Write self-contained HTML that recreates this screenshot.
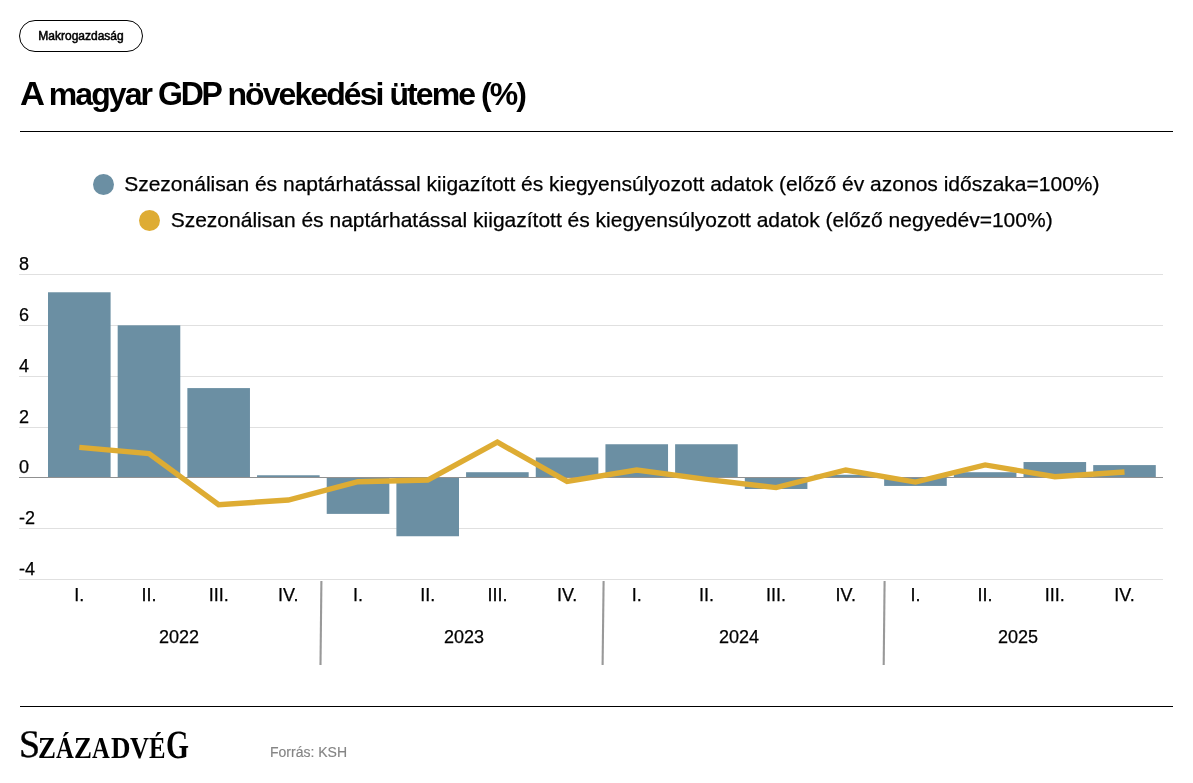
<!DOCTYPE html>
<html lang="hu">
<head>
<meta charset="utf-8">
<title>A magyar GDP növekedési üteme (%)</title>
<style>
html,body{margin:0;padding:0;background:#fff;}
body{width:1193px;height:783px;position:relative;overflow:hidden;font-family:"Liberation Sans",Arial,Helvetica,sans-serif;color:#000;}
.abs{position:absolute;white-space:nowrap;}
.pill{left:19px;top:20px;width:124px;height:32px;box-sizing:border-box;border:1px solid #000;border-radius:16px;text-align:center;font-size:12px;line-height:30px;-webkit-text-stroke:0.5px #000;}
.title{left:20px;top:76px;margin:0;font-size:32px;line-height:37px;font-weight:bold;letter-spacing:-1.93px;}
.title .cap{display:inline-block;transform:scaleY(1.05);transform-origin:0 29.6px;}
.rule{left:20px;width:1153px;height:1px;background:#000;}
.legend{font-size:21px;line-height:24px;-webkit-text-stroke:0.25px #000;}
.dot{width:21px;height:21px;border-radius:50%;}
.chart{position:absolute;left:0;top:0;}
.logo{left:20px;top:720px;height:60px;line-height:60px;font-size:30.4px;font-family:"Liberation Serif","DejaVu Serif",serif;text-rendering:geometricPrecision;}
.logo span{display:inline-block;vertical-align:top;position:relative;height:60px;transform-origin:0 0;}
.source{left:270px;top:744px;font-size:14px;line-height:16px;color:#858585;-webkit-text-stroke:0.15px #858585;}
</style>
</head>
<body>
<div class="abs pill">Makrogazdaság</div>
<h1 class="abs title"><span class="cap" style="transform:scale(1.08,1.05);letter-spacing:-1.3px">A</span> magyar<span style="letter-spacing:-1.9px"> </span><span class="cap" style="letter-spacing:-2.3px">GDP</span><span style="letter-spacing:-1.9px"> </span>növekedési üteme (%)</h1>
<div class="abs rule" style="top:131px"></div>
<div class="abs dot" style="left:93px;top:174px;background:#6b8fa3"></div>
<div class="abs legend" style="left:124.2px;top:172px">Szezonálisan és naptárhatással kiigazított és kiegyensúlyozott adatok (előző év azonos időszaka=100%)</div>
<div class="abs dot" style="left:139px;top:210px;background:#deac33"></div>
<div class="abs legend" style="left:170.7px;top:208px">Szezonálisan és naptárhatással kiigazított és kiegyensúlyozott adatok (előző negyedév=100%)</div>
<svg class="chart" width="1193" height="783" viewBox="0 0 1193 783">
<g shape-rendering="crispEdges">
<rect x="19" y="274" width="1144" height="1" fill="#e0e0e0"/>
<rect x="19" y="325" width="1144" height="1" fill="#e0e0e0"/>
<rect x="19" y="376" width="1144" height="1" fill="#e0e0e0"/>
<rect x="19" y="427" width="1144" height="1" fill="#e0e0e0"/>
<rect x="19" y="528" width="1144" height="1" fill="#e0e0e0"/>
<rect x="19" y="579" width="1144" height="1" fill="#e0e0e0"/>
</g>
<g fill="#6b8fa3">
<rect x="48.00" y="292.27" width="62.6" height="185.53"/>
<rect x="117.68" y="325.31" width="62.6" height="152.49"/>
<rect x="187.36" y="388.09" width="62.6" height="89.71"/>
<rect x="257.04" y="475.26" width="62.6" height="2.54"/>
<rect x="326.72" y="477.80" width="62.6" height="36.09"/>
<rect x="396.40" y="477.80" width="62.6" height="58.45"/>
<rect x="466.08" y="472.21" width="62.6" height="5.59"/>
<rect x="535.76" y="457.47" width="62.6" height="20.33"/>
<rect x="605.44" y="444.25" width="62.6" height="33.55"/>
<rect x="675.12" y="444.25" width="62.6" height="33.55"/>
<rect x="744.80" y="477.80" width="62.6" height="11.18"/>
<rect x="814.48" y="474.75" width="62.6" height="3.05"/>
<rect x="884.16" y="477.80" width="62.6" height="8.13"/>
<rect x="953.84" y="472.21" width="62.6" height="5.59"/>
<rect x="1023.52" y="462.04" width="62.6" height="15.76"/>
<rect x="1093.20" y="465.09" width="62.6" height="12.71"/>
</g>
<rect x="19" y="477" width="1144" height="1" fill="#909090" shape-rendering="crispEdges"/>
<polyline points="79.30,447.40 148.98,453.50 218.66,504.70 288.34,500.00 358.02,481.70 427.70,480.00 497.38,442.20 567.06,481.40 636.74,470.00 706.42,479.40 776.10,487.60 845.78,470.00 915.46,482.10 985.14,464.90 1054.82,476.70 1124.50,472.00" fill="none" stroke="#deac33" stroke-width="5.4" stroke-linejoin="miter" stroke-linecap="butt"/>
<line x1="321.4" y1="581" x2="320.5" y2="665" stroke="#999999" stroke-width="2.1"/>
<line x1="603.6" y1="581" x2="602.6" y2="665" stroke="#999999" stroke-width="2.1"/>
<line x1="884.6" y1="581" x2="883.7" y2="665" stroke="#999999" stroke-width="2.1"/>
<g font-family="'Liberation Sans', Arial, Helvetica, sans-serif" font-size="18" fill="#000" stroke="#000" stroke-width="0.25">
<text x="19" y="270.0">8</text>
<text x="19" y="321.0">6</text>
<text x="19" y="372.0">4</text>
<text x="19" y="423.0">2</text>
<text x="19" y="473.0">0</text>
<text x="19" y="524.0">-2</text>
<text x="19" y="575.0">-4</text>
<text x="79.3" y="601.1" text-anchor="middle">I.</text>
<text x="149.0" y="601.1" text-anchor="middle">II.</text>
<text x="218.7" y="601.1" text-anchor="middle">III.</text>
<text x="288.3" y="601.1" text-anchor="middle">IV.</text>
<text x="358.0" y="601.1" text-anchor="middle">I.</text>
<text x="427.7" y="601.1" text-anchor="middle">II.</text>
<text x="497.4" y="601.1" text-anchor="middle">III.</text>
<text x="567.1" y="601.1" text-anchor="middle">IV.</text>
<text x="636.7" y="601.1" text-anchor="middle">I.</text>
<text x="706.4" y="601.1" text-anchor="middle">II.</text>
<text x="776.1" y="601.1" text-anchor="middle">III.</text>
<text x="845.8" y="601.1" text-anchor="middle">IV.</text>
<text x="915.5" y="601.1" text-anchor="middle">I.</text>
<text x="985.1" y="601.1" text-anchor="middle">II.</text>
<text x="1054.8" y="601.1" text-anchor="middle">III.</text>
<text x="1124.5" y="601.1" text-anchor="middle">IV.</text>
<text x="178.9" y="643.1" text-anchor="middle">2022</text>
<text x="464.1" y="643.1" text-anchor="middle">2023</text>
<text x="739.1" y="643.1" text-anchor="middle">2024</text>
<text x="1018.1" y="643.1" text-anchor="middle">2025</text>
</g>
</svg>
<div class="abs rule" style="top:706px"></div>
<div class="abs logo"><span style="margin-left:-1.44px;width:19.45px;top:-4.56px;font-size:39.0px;transform:scaleX(0.9722);-webkit-text-stroke:0.4px #000;">S</span><span style="width:18.05px;top:-2.46px;font-size:30.4px;transform:scaleX(0.8855);font-weight:bold;">Z</span><span style="width:18.15px;top:-2.46px;font-size:30.4px;transform:scaleX(0.8118);font-weight:bold;">Á</span><span style="width:18.25px;top:-2.46px;font-size:30.4px;transform:scaleX(0.8855);font-weight:bold;">Z</span><span style="width:18.97px;top:-2.46px;font-size:30.4px;transform:scaleX(0.8118);font-weight:bold;">A</span><span style="width:18.48px;top:-2.46px;font-size:30.4px;transform:scaleX(0.8879);font-weight:bold;">D</span><span style="width:19.17px;top:-2.46px;font-size:30.4px;transform:scaleX(0.8650);font-weight:bold;">V</span><span style="width:16.58px;top:-2.46px;font-size:30.4px;transform:scaleX(0.8133);font-weight:bold;">É</span><span style="width:30.00px;top:-4.96px;font-size:40.2px;transform:scaleX(0.7339);font-weight:bold;">G</span></div>
<div class="abs source">Forrás: KSH</div>
</body>
</html>
